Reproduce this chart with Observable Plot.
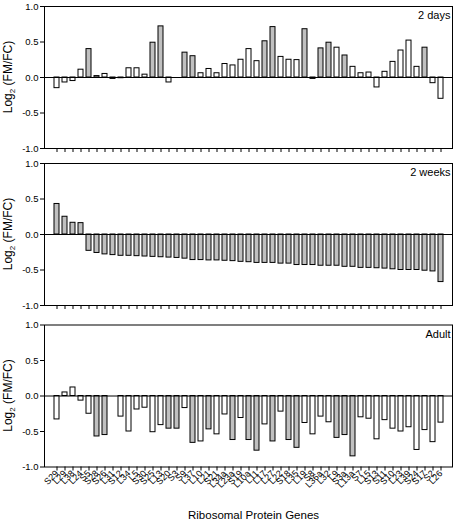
<!DOCTYPE html>
<html>
<head>
<meta charset="utf-8">
<script src="https://cdn.jsdelivr.net/npm/d3@7"></script>
<script src="https://cdn.jsdelivr.net/npm/@observablehq/plot@0.6"></script>
<style>
  html, body { margin: 0; padding: 0; background: white; }
  #chart svg { display: block; }
</style>
</head>
<body>
<div id="chart"></div>
<script>
const genes = ["S29","L29","L38","L24","S5","S28","S26","L31","S12","L34",
  "L5","S30","S25","L13","S20","S3","S9","L37","L10","L21",
  "S21","L34a","L23a","S19","L10a","L11","L17","L27","L22","S18",
  "L35","L19","S8","L36a","L32","L9","S3a","L13a","S7","L15",
  "S13","S11","S10","L23","L39","S24","S17","S2","L26"];

const days2 = [-0.15,-0.07,-0.05,0.11,0.40,0.02,0.05,-0.02,-0.01,0.13,
  0.13,0.04,0.49,0.72,-0.07,0.00,0.35,0.30,0.06,0.12,
  0.06,0.19,0.17,0.25,0.40,0.23,0.51,0.71,0.29,0.25,
  0.245,0.68,-0.02,0.41,0.49,0.42,0.31,0.15,0.06,0.07,
  -0.14,0.08,0.22,0.38,0.52,0.15,0.42,-0.08,-0.30];
const days2Sig = [0,0,0,0,1,1,0,1,0,0, 0,0,1,1,0,0,1,1,0,0,
  0,0,0,0,0,0,1,1,0,0, 0,1,0,1,1,0,1,0,0,0, 0,0,0,0,0,0,1,0,0];

const weeks2 = [0.43,0.25,0.165,0.16,-0.23,-0.26,-0.28,-0.29,-0.30,-0.30,
  -0.305,-0.31,-0.315,-0.32,-0.325,-0.33,-0.34,-0.36,-0.36,-0.365,
  -0.365,-0.37,-0.375,-0.385,-0.39,-0.40,-0.40,-0.40,-0.41,-0.41,
  -0.43,-0.43,-0.43,-0.44,-0.44,-0.44,-0.455,-0.455,-0.47,-0.47,
  -0.475,-0.48,-0.49,-0.50,-0.50,-0.50,-0.51,-0.52,-0.67];
const weeks2Sig = genes.map(() => 1);

const adult = [-0.33,0.05,0.12,-0.065,-0.25,-0.57,-0.55,0.00,-0.29,-0.50,
  -0.19,-0.165,-0.51,-0.41,-0.46,-0.46,-0.17,-0.66,-0.64,-0.47,
  -0.54,-0.26,-0.62,-0.31,-0.62,-0.77,-0.40,-0.64,-0.22,-0.62,
  -0.73,-0.38,-0.54,-0.29,-0.37,-0.59,-0.55,-0.85,-0.30,-0.32,
  -0.61,-0.34,-0.46,-0.50,-0.44,-0.76,-0.48,-0.65,-0.375];
const adultSig = [0,0,0,0,0,1,1,0,0,0, 0,0,0,0,1,1,0,1,0,1,
  0,0,1,0,1,1,0,1,0,1, 1,0,0,0,0,1,1,1,0,0, 0,0,0,0,0,0,0,0,0];

const yTicks = [-1, -0.5, 0, 0.5, 1];
const panelLabels = ["2 days", "2 weeks", "Adult"];
const xTitle = "Ribosomal Protein Genes";
const FONT = "'Liberation Sans', Arial, Helvetica, sans-serif";
const FRAME_H = 142;

function panel(values, sig, label, height, marginTop, marginBottom, showLabels) {
  const data = genes.map((g, i) => ({gene: g, value: values[i], sig: sig[i]}));
  const marks = [
    Plot.barY(data, {x: "gene", y: "value", fill: d => d.sig ? "#c0c0c0" : "#ffffff", stroke: "black", strokeWidth: 1}),
    Plot.ruleY([0], {stroke: "black", strokeWidth: 1}),
    Plot.frame({stroke: "black", strokeWidth: 1}),
    Plot.axisY({ticks: yTicks, tickFormat: d => d.toFixed(1), tickSize: 4, tickPadding: 2, fontSize: 9.5, label: null}),
    showLabels
      ? Plot.axisX({tickSize: 4, tickRotate: -45, tickPadding: 1, fontSize: 9, label: null})
      : Plot.axisX({tickSize: 4, tickFormat: () => "", label: null}),
    Plot.text([label], {text: d => d, frameAnchor: "top-right", lineAnchor: "top", textAnchor: "end", dx: -2, dy: 5, fontSize: 11, fontWeight: "normal", fill: "black"})
  ];
  if (showLabels) {
    marks.push(Plot.text([xTitle], {text: d => d, frameAnchor: "bottom", lineAnchor: "middle", dx: 5, dy: 48, fontSize: 11.5, fontWeight: "normal", fill: "black"}));
  }
  const svg = Plot.plot({
    width: 454,
    height,
    marginTop,
    marginBottom,
    marginLeft: 44,
    marginRight: 2,
    style: {fontFamily: FONT, color: "black", background: "white", overflow: "visible"},
    x: {type: "band", domain: genes, paddingInner: 0.4, paddingOuter: 0.8, axis: null},
    y: {domain: [-1, 1], axis: null},
    color: {type: "identity"},
    marks
  });
  const cy = marginTop + FRAME_H / 2;
  const t = d3.select(svg).append("text")
    .attr("transform", `translate(12,${cy}) rotate(-90)`)
    .attr("text-anchor", "middle")
    .attr("font-family", FONT)
    .attr("font-size", 12)
    .attr("fill", "black");
  t.append("tspan").text("Log");
  t.append("tspan").attr("font-size", 8).attr("dy", 3).text("2");
  t.append("tspan").attr("dy", -3).text(" (FM/FC)");
  return svg;
}

const chart = document.getElementById("chart");
chart.appendChild(panel(days2, days2Sig, panelLabels[0], 158, 6, 10, false));
chart.appendChild(panel(weeks2, weeks2Sig, panelLabels[1], 161, 5, 14, false));
chart.appendChild(panel(adult, adultSig, panelLabels[2], 205, 5.5, 57.5, true));
</script>
</body>
</html>
